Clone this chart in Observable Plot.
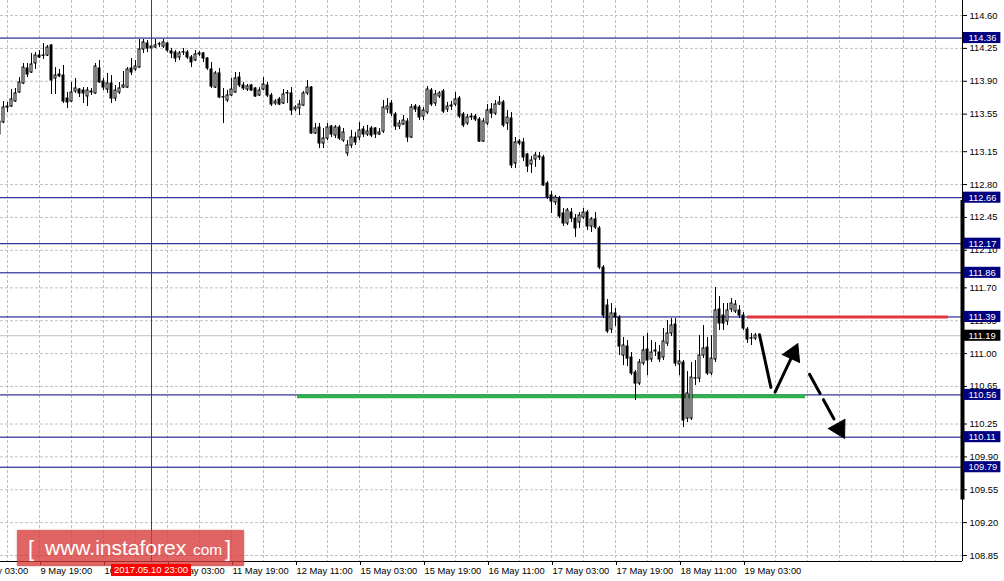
<!DOCTYPE html>
<html><head><meta charset="utf-8">
<script src="https://cdn.jsdelivr.net/npm/d3@7"></script>
<script src="https://cdn.jsdelivr.net/npm/@observablehq/plot@0.6"></script>
<style>
html,body{margin:0;padding:0;background:#fff;}
#wrap{position:relative;width:1004px;height:581px;overflow:hidden;}
#wrap svg{display:block;}
#wm{position:absolute;left:17px;top:530px;width:227px;height:36px;background:rgba(216,56,56,0.78);box-shadow:0 0 2px rgba(140,0,0,0.45);border-radius:1px;font-family:"Liberation Sans",Arial,sans-serif;color:#fff;}
#wm span{position:absolute;white-space:nowrap;}
#dt{position:absolute;height:12px;line-height:12px;background:#ff0000;color:#fff;font-family:"Liberation Sans",Arial,sans-serif;font-size:9.5px;text-align:center;}
</style></head><body><div id="wrap"></div>
<script>
// ---- data (USD/JPY H1 candles) ----
const open = [
113.471,113.461,113.620,113.631,113.684,113.780,113.876,114.036,113.993,114.089,
114.174,114.170,114.174,114.281,113.929,113.972,113.961,113.716,113.684,113.791,
113.812,113.801,113.738,113.780,113.770,114.036,113.897,113.812,113.876,113.716,
113.780,113.833,113.833,114.036,114.025,114.046,114.238,114.302,114.270,114.259,
114.291,114.270,114.302,114.217,114.206,114.153,114.206,114.206,114.153,114.121,
114.185,114.196,114.142,114.025,113.833,113.983,113.727,113.695,113.748,113.780,
113.940,113.855,113.812,113.855,113.823,113.748,113.812,113.855,113.748,113.663,
113.706,113.663,113.770,113.770,113.599,113.610,113.641,113.770,113.833,113.344,
113.407,113.237,113.290,113.418,113.322,113.407,113.269,113.131,113.216,113.301,
113.301,113.386,113.333,113.397,113.397,113.333,113.365,113.599,113.663,113.546,
113.418,113.439,113.471,113.301,113.631,113.620,113.524,113.567,113.801,113.663,
113.738,113.791,113.599,113.631,113.652,113.716,113.546,113.450,113.514,113.524,
113.492,113.258,113.450,113.599,113.556,113.652,113.674,113.450,113.503,113.024,
113.258,113.248,113.120,113.014,113.067,113.099,113.088,112.811,112.683,112.609,
112.651,112.492,112.385,112.502,112.438,112.396,112.449,112.502,112.353,112.428,
112.332,111.916,111.512,111.256,111.427,111.384,110.979,111.075,110.958,110.798,
110.681,110.894,111.043,110.937,111.022,111.011,110.958,111.107,111.214,111.309,
110.884,110.905,110.308,110.308,110.734,110.734,110.979,111.064,110.788,110.937,
111.469,111.405,111.341,111.469,111.448,111.459,111.405,111.256,111.160,111.160];
const high = [
113.503,113.684,113.674,113.812,113.823,113.940,114.089,114.089,114.196,114.206,
114.227,114.302,114.281,114.291,114.046,114.025,114.068,113.780,113.887,113.929,
113.823,113.833,113.833,113.823,114.089,114.121,113.929,113.983,113.961,113.855,
113.887,114.004,114.046,114.142,114.121,114.345,114.345,114.334,114.291,114.345,
114.313,114.345,114.313,114.249,114.227,114.217,114.249,114.227,114.174,114.227,
114.217,114.206,114.153,114.100,114.004,114.036,113.823,113.801,113.929,113.993,
113.993,113.887,113.865,113.865,113.833,113.833,113.940,113.887,113.770,113.706,
113.727,113.812,113.801,113.833,113.641,113.695,113.791,113.908,113.844,113.450,
113.450,113.397,113.450,113.429,113.429,113.429,113.397,113.269,113.376,113.354,
113.461,113.418,113.429,113.418,113.407,113.397,113.695,113.716,113.695,113.567,
113.482,113.535,113.503,113.652,113.652,113.641,113.620,113.844,113.823,113.801,
113.791,113.812,113.674,113.684,113.780,113.738,113.567,113.546,113.556,113.546,
113.514,113.503,113.652,113.663,113.695,113.738,113.695,113.588,113.567,113.301,
113.280,113.290,113.131,113.099,113.142,113.142,113.110,112.832,112.726,112.683,
112.673,112.545,112.545,112.545,112.481,112.502,112.545,112.524,112.449,112.502,
112.353,111.938,111.576,111.533,111.480,111.405,111.171,111.139,111.011,110.820,
110.937,111.182,111.214,111.139,111.118,111.086,111.267,111.352,111.373,111.373,
111.033,110.926,110.809,110.905,110.926,111.192,111.299,111.171,111.192,111.704,
111.608,111.533,111.533,111.586,111.565,111.512,111.437,111.278,111.214,111.214];
const low = [
113.301,113.450,113.567,113.620,113.674,113.770,113.865,113.940,113.983,114.025,
114.142,114.132,114.164,113.759,113.759,113.940,113.663,113.610,113.674,113.770,
113.727,113.663,113.631,113.748,113.759,113.876,113.801,113.770,113.663,113.684,
113.759,113.823,113.823,113.961,114.004,114.036,114.196,114.206,114.227,114.249,
114.259,114.249,114.206,114.142,114.100,114.121,114.174,114.132,114.046,114.110,
114.164,114.100,114.015,113.823,113.823,113.716,113.450,113.674,113.738,113.770,
113.833,113.801,113.791,113.791,113.727,113.738,113.801,113.727,113.631,113.641,
113.641,113.652,113.663,113.535,113.577,113.535,113.631,113.748,113.333,113.333,
113.184,113.184,113.269,113.301,113.290,113.269,113.248,113.099,113.184,113.216,
113.269,113.301,113.312,113.301,113.290,113.322,113.344,113.556,113.524,113.376,
113.386,113.429,113.248,113.290,113.567,113.482,113.482,113.546,113.631,113.631,
113.716,113.556,113.567,113.588,113.631,113.503,113.407,113.429,113.482,113.471,
113.248,113.248,113.429,113.503,113.535,113.641,113.407,113.376,112.971,112.971,
113.216,113.046,112.928,112.918,112.982,113.056,112.780,112.641,112.492,112.577,
112.438,112.353,112.364,112.396,112.236,112.332,112.428,112.310,112.289,112.321,
111.894,111.373,111.214,111.214,111.288,110.979,110.872,110.862,110.766,110.500,
110.660,110.872,110.766,110.905,110.969,110.905,110.926,111.075,111.182,110.862,
110.766,110.212,110.266,110.287,110.660,110.692,110.947,110.766,110.766,110.905,
111.246,111.246,111.299,111.437,111.427,111.373,111.246,111.107,111.086,111.139];
const close = [
113.333,113.620,113.631,113.706,113.770,113.887,114.046,113.972,114.078,114.174,
114.153,114.174,114.259,113.908,113.961,113.951,113.684,113.674,113.780,113.823,
113.770,113.770,113.801,113.791,114.057,113.887,113.833,113.876,113.716,113.801,
113.823,113.855,114.025,113.993,114.057,114.238,114.313,114.249,114.249,114.281,
114.288,114.313,114.227,114.196,114.142,114.196,114.209,114.153,114.100,114.185,
114.196,114.142,114.036,113.844,113.983,113.727,113.730,113.748,113.812,113.929,
113.855,113.823,113.844,113.801,113.738,113.801,113.865,113.748,113.652,113.684,
113.652,113.759,113.767,113.588,113.620,113.652,113.770,113.833,113.344,113.397,
113.237,113.290,113.407,113.333,113.407,113.290,113.354,113.216,113.301,113.248,
113.376,113.333,113.365,113.322,113.333,113.354,113.620,113.631,113.556,113.418,
113.450,113.482,113.301,113.620,113.599,113.514,113.588,113.812,113.652,113.759,
113.770,113.577,113.631,113.641,113.706,113.524,113.429,113.514,113.524,113.492,
113.258,113.471,113.588,113.556,113.652,113.674,113.429,113.514,113.003,113.248,
113.237,113.088,112.992,113.056,113.110,113.088,112.790,112.662,112.619,112.662,
112.460,112.385,112.524,112.438,112.332,112.470,112.502,112.353,112.428,112.342,
111.916,111.405,111.235,111.427,111.384,111.075,111.086,110.947,110.788,110.681,
110.905,111.033,110.926,111.011,111.033,110.937,111.129,111.214,111.299,110.894,
110.916,110.287,110.575,110.745,110.737,110.979,111.054,110.788,110.947,111.459,
111.320,111.320,111.459,111.533,111.522,111.405,111.267,111.150,111.157,111.192];

const yTicks = [114.60,114.25,113.90,113.55,113.15,112.80,112.45,112.10,111.70,111.35,111.00,110.65,110.25,109.90,109.55,109.20,108.85];
const xTickIdx = [-6,10,26,42,58,74,90,106,122,138,154,170,186];
const xTickLabels = ["9 May 03:00","9 May 19:00","10 May 11:00","11 May 03:00","11 May 19:00","12 May 11:00","15 May 03:00","15 May 19:00","16 May 11:00","17 May 03:00","17 May 19:00","18 May 11:00","19 May 03:00"];
const levels = [114.36,112.66,112.17,111.86,111.39,110.56,110.11,109.79];
const bidPrice = [111.19];
const crossIdx = [38];
const crossLabel = "2017.05.10 23:00";
const resistance = [{price:111.39, from:187, to:237.25}];
const support = [{price:110.545, from:74.5, to:201.5}];
const pathSolid = [[190.0,111.20],[192.85,110.64]];
const arrowUp = [[193.9,110.59],[198.45,111.00]];
const arrowDown = [[202.5,110.78],[209.95,110.20]];
const heads = [{i:198.45,p:111.00,rot:24.6},{i:209.95,p:110.20,rot:151}];
const sideBar = [{from:112.63, to:109.44}];

// ---- chart ----
const X_MIN = 0.25, X_MAX = 240.75;
const Y_MIN = 108.786, Y_MAX = 114.76;
const bars = open.map((o,i)=>({i,o,h:high[i],l:low[i],c:close[i]}));
const labelMap = new Map(xTickIdx.map((k,j)=>[k,xTickLabels[j]]));
const gridX = d3.range(2, X_MAX, 8);
const halfBox = 0.059;

const chart = Plot.plot({
  width: 1004, height: 581,
  marginLeft: 0, marginRight: 42, marginTop: 0, marginBottom: 20,
  style: {fontFamily: "'Liberation Sans', Arial, sans-serif", fontSize: "9.4px", color: "black", background: "white", overflow: "hidden"},
  x: {domain: [X_MIN, X_MAX]},
  y: {domain: [Y_MIN, Y_MAX]},
  marks: [
    Plot.ruleY(yTicks, {stroke: "#c0c0c0", strokeDasharray: "3,2"}),
    Plot.ruleX(gridX, {stroke: "#c0c0c0", strokeDasharray: "3,2"}),
    Plot.ruleY(levels, {stroke: "#000080", strokeWidth: 1}),
    Plot.ruleY(bidPrice, {stroke: "#c0c0c0", strokeWidth: 1}),
    Plot.ruleY(support, {y: "price", x1: "from", x2: "to", stroke: "#2fb04c", strokeWidth: 4}),
    Plot.ruleX(bars, {x: "i", y1: "l", y2: "h", stroke: "black", strokeWidth: 1}),
    Plot.rect(bars, {
      x1: d => d.i - 0.25, x2: d => d.i + 0.25,
      y1: "o", y2: d => Math.abs(d.c - d.o) < 0.004 ? d.o + 0.004 : d.c,
      fill: d => d.c >= d.o ? "white" : "black", stroke: "black", strokeWidth: 1
    }),
    Plot.ruleY(resistance, {y: "price", x1: "from", x2: "to", stroke: "#e2363c", strokeWidth: 3}),
    Plot.line(pathSolid, {x: d => d[0], y: d => d[1], stroke: "black", strokeWidth: 3}),
    Plot.line(arrowUp, {x: d => d[0], y: d => d[1], stroke: "black", strokeWidth: 3}),
    Plot.line(arrowDown, {x: d => d[0], y: d => d[1], stroke: "black", strokeWidth: 3, strokeDasharray: "22,7"}),
    Plot.dot(heads, {x: "i", y: "p", symbol: "triangle", rotate: "rot", r: 7, fill: "black", stroke: "black", strokeWidth: 1}),
    Plot.ruleX(crossIdx, {stroke: "#e00000", strokeWidth: 1}),
    Plot.ruleY([Y_MIN], {stroke: "black"}),
    Plot.ruleX([X_MAX], {stroke: "black"}),
    Plot.ruleX(sideBar, {x: () => X_MAX, y1: "from", y2: "to", stroke: "black", strokeWidth: 4}),
    Plot.axisY({anchor: "right", ticks: yTicks, tickSize: 4, tickPadding: 3, tickFormat: d => d.toFixed(2), label: null}),
    Plot.axisX({anchor: "bottom", ticks: xTickIdx, tickSize: 4, tickPadding: 2, tickFormat: d => labelMap.get(d), textAnchor: "start", dx: 1, label: null}),
    Plot.rect(levels, {x1: X_MAX + 0.25, x2: X_MAX + 9.6, y1: d => d - halfBox, y2: d => d + halfBox, fill: "#000080"}),
    Plot.rect(bidPrice, {x1: X_MAX + 0.25, x2: X_MAX + 9.6, y1: d => d - halfBox, y2: d => d + halfBox, fill: "black"}),
    Plot.text(levels.concat(bidPrice), {y: d => d, frameAnchor: "right", text: d => d.toFixed(2), textAnchor: "start", dx: 6, fill: "white"})
  ]
});
const wrap = document.getElementById("wrap");
wrap.appendChild(chart);

// watermark
const wm = document.createElement("div");
wm.id = "wm";
wm.innerHTML = '<span style="left:11px;top:6px;font-size:22px;">[</span>' +
  '<span style="left:28px;top:6px;font-size:21px;">www.instaforex</span>' +
  '<span style="left:176px;top:11px;font-size:15.5px;">com</span>' +
  '<span style="left:208px;top:6px;font-size:22px;">]</span>';
wrap.appendChild(wm);

// crosshair date label
const cx = chart.scale("x").apply(crossIdx[0]);
const dt = document.createElement("div");
dt.id = "dt";
dt.textContent = crossLabel;
dt.style.left = (cx - 40) + "px";
dt.style.width = "80px";
dt.style.top = "564px";
wrap.appendChild(dt);
</script></body></html>
